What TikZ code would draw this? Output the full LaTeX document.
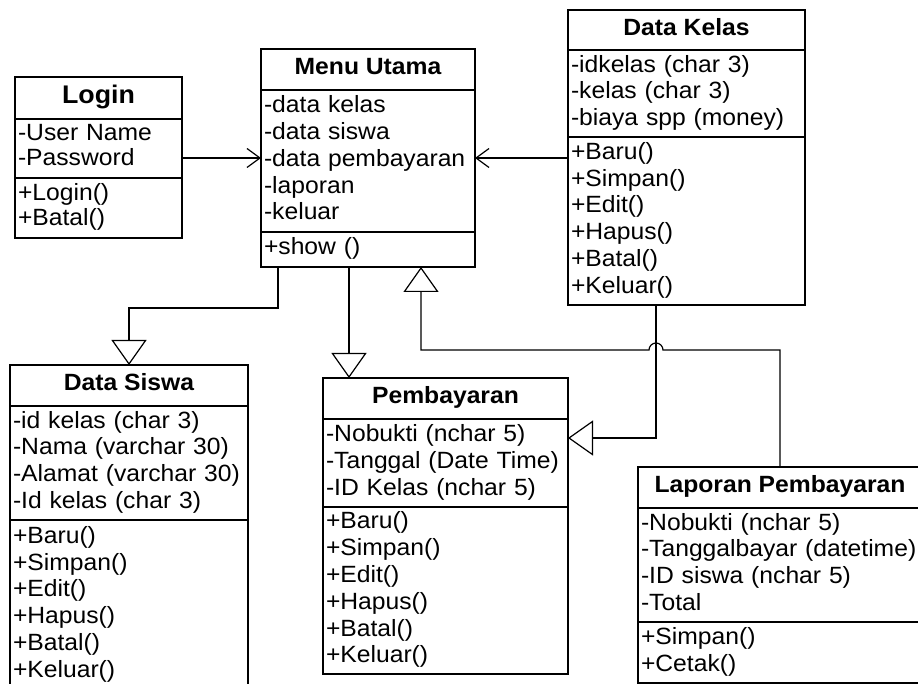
\documentclass[tikz,border=0pt]{standalone}
\usepackage{fontspec}
\setmainfont[FakeStretch=1.05]{Liberation Sans}
\usetikzlibrary{arrows.meta}
\tikzset{
  box/.style={draw, line width=1.8pt, inner ysep=0pt, inner xsep=3pt, outer sep=0pt, anchor=north west},
  ttl/.style={box, font=\bfseries\fontsize{23.5}{26.8}\selectfont},
  cmp/.style={box, font=\fontsize{23.5}{26.8}\selectfont, align=left},
  conn/.style={line width=1.2pt},
  gen/.style={conn, -{Triangle[open, length=25pt, width=35pt, line width=1.2pt]}},
  dep/.style={conn, -{Straight Barb[length=13pt, width=19pt, line width=1.2pt]}},
}
\begin{document}
\begin{tikzpicture}[x=1pt,y=-1pt]
\useasboundingbox (0,0) rectangle (918,684);

% Login
\node[ttl, font=\bfseries\fontsize{25.5}{28}\selectfont, minimum width=167pt, minimum height=42pt] (login) at (15,77) {\strut Login};
\node[cmp, font=\fontsize{23.5}{25}\selectfont, text width=161pt, minimum height=59pt] (login-a) at (login.south west) {\strut -User Name\\-Password\strut};
\node[cmp, font=\fontsize{23.5}{25}\selectfont, text width=161pt, minimum height=60pt] (login-m) at (login-a.south west) {\strut +Login()\\+Batal()\strut};

% Menu Utama
\node[ttl, minimum width=214pt, minimum height=41pt] (menu) at (261,49) {\strut Menu Utama};
\node[cmp, text width=208pt, minimum height=142pt] (menu-a) at (menu.south west) {\strut -data kelas\\-data siswa\\-data pembayaran\\-laporan\\-keluar\strut};
\node[cmp, text width=208pt, minimum height=35pt] (menu-m) at (menu-a.south west) {\strut +show ()\strut};

% Data Kelas
\node[ttl, minimum width=237pt, minimum height=40pt] (kelas) at (568,10) {\strut Data Kelas};
\node[cmp, text width=231pt, minimum height=87pt] (kelas-a) at (kelas.south west) {\strut -idkelas (char 3)\\-kelas (char 3)\\-biaya spp (money)\strut};
\node[cmp, text width=231pt, minimum height=168pt] (kelas-m) at (kelas-a.south west) {\strut +Baru()\\+Simpan()\\+Edit()\\+Hapus()\\+Batal()\\+Keluar()\strut};

% Data Siswa
\node[ttl, minimum width=238pt, minimum height=41pt] (siswa) at (10,365) {\strut Data Siswa};
\node[cmp, text width=232pt, minimum height=114pt] (siswa-a) at (siswa.south west) {\strut -id kelas (char 3)\\-Nama (varchar 30)\\-Alamat (varchar 30)\\-Id kelas (char 3)\strut};
\node[cmp, text width=232pt, minimum height=170pt] (siswa-m) at (siswa-a.south west) {\strut +Baru()\\+Simpan()\\+Edit()\\+Hapus()\\+Batal()\\+Keluar()\strut};

% Pembayaran
\node[ttl, minimum width=245pt, minimum height=41pt] (bayar) at (323,378) {\strut Pembayaran};
\node[cmp, text width=239pt, minimum height=88pt] (bayar-a) at (bayar.south west) {\strut -Nobukti (nchar 5)\\-Tanggal (Date Time)\\-ID Kelas (nchar 5)\strut};
\node[cmp, text width=239pt, minimum height=167pt] (bayar-m) at (bayar-a.south west) {\strut +Baru()\\+Simpan()\\+Edit()\\+Hapus()\\+Batal()\\+Keluar()\strut};

% Laporan Pembayaran
\node[ttl, minimum width=284pt, minimum height=41pt] (lapor) at (638,467) {\strut Laporan Pembayaran};
\node[cmp, text width=278pt, minimum height=114pt] (lapor-a) at (lapor.south west) {\strut -Nobukti (nchar 5)\\-Tanggalbayar (datetime)\\-ID siswa (nchar 5)\\-Total\strut};
\node[cmp, text width=278pt, minimum height=61pt] (lapor-m) at (lapor-a.south west) {\strut +Simpan()\\+Cetak()\strut};

% helper coordinates
\coordinate (y158) at (0,158);
\coordinate (y350) at (0,350);
\coordinate (y438) at (0,438);
\coordinate (kx) at ([xshift=88pt]kelas-m.south west);
\coordinate (mx) at ([xshift=160pt]menu-m.south west);
\coordinate (hop) at (kx |- y350);

% connectors
\draw[dep] (login-a.east |- y158) -- (menu-a.west |- y158);
\draw[dep] (kelas-m.west |- y158) -- (menu-a.east |- y158);
\draw[gen] ([xshift=17pt]menu-m.south west) -- ++(0,41) -| (siswa.north);
\draw[gen] ([xshift=88pt]menu-m.south west) -- ([xshift=26pt]bayar.north west);
\draw[gen] (kx) |- (bayar-a.east |- y438);
\draw[gen] (lapor.north) |- ([xshift=7pt]hop) arc[start angle=0, end angle=-180, radius=7] -- (mx |- y350) -- (mx);
\end{tikzpicture}
\end{document}
